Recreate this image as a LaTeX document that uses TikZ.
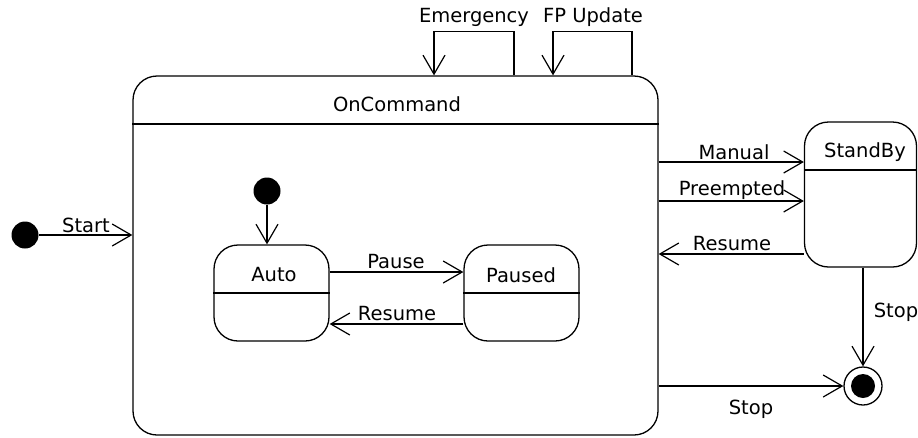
\documentclass[tikz,border=0pt]{standalone}
\usepackage{fontspec}
\setmainfont{DejaVu Sans}
\usetikzlibrary{arrows.meta}
\begin{document}
\begin{tikzpicture}[x=1pt,y=-1pt,
  txt/.style={font=\fontsize{19.5}{23}\selectfont, inner sep=0pt},
  state/.style={draw, line width=1.3pt, rounded corners=24pt, inner sep=0pt},
  hdr/.style={line width=1.3pt},
  initst/.style={circle, fill=black, minimum size=27pt, inner sep=0pt},
  arr/.style={line width=1.2pt, -{Straight Barb[length=19pt,width=22pt]}}]
\useasboundingbox (0,0) rectangle (918,437);
% states
\node[state, minimum width=525pt, minimum height=359pt] (oncmd) at (395.5,255.5) {};
\node[state, minimum width=115pt, minimum height=96pt] (auto) at (271.5,293) {};
\node[state, minimum width=115pt, minimum height=96pt] (paused) at (521.5,293) {};
\node[state, minimum width=112pt, minimum height=145pt] (standby) at (860.5,194.5) {};
\node[initst] (init1) at (25,235) {};
\node[initst] (init2) at (267,191) {};
\node[circle, draw, line width=1.3pt, minimum size=38pt, inner sep=0pt] (final) at (863,386) {};
\node[circle, fill=black, minimum size=24pt, inner sep=0pt] (finalin) at (final) {};
% header lines
\draw[hdr] (oncmd.west |- 0,124) -- (oncmd.east |- 0,124);
\draw[hdr] (auto.west |- 0,293) -- (auto.east |- 0,293);
\draw[hdr] (paused.west |- 0,293) -- (paused.east |- 0,293);
\draw[hdr] (standby.west |- 0,170) -- (standby.east |- 0,170);
% titles
\node[txt] (tOn) at (397,104) {OnCommand};
\node[txt] (tAuto) at (274,275) {Auto};
\node[txt] (tPaused) at (521,275) {Paused};
\node[txt] (tStandBy) at (865,152) {StandBy};
% transitions
\draw[arr] (init1) -- (init1 -| oncmd.west);
\draw[arr] (init2) -- (init2 |- auto.north);
\draw[arr] (auto.east |- 0,272) -- (paused.west |- 0,272);
\draw[arr] (paused.west |- 0,324) -- (auto.east |- 0,324);
\draw[arr] (oncmd.east |- 0,162) -- (standby.west |- 0,162);
\draw[arr] (oncmd.east |- 0,201) -- (standby.west |- 0,201);
\draw[arr] (standby.west |- 0,254) -- (oncmd.east |- 0,254);
\draw[arr] (final |- standby.south) -- (final.north);
\draw[arr] (oncmd.east |- final) -- (final.west);
\draw[arr] (oncmd.north -| 514,0) -- ++(0,-44) -| (oncmd.north -| 434,0);
\draw[arr] (oncmd.north -| 632,0) -- ++(0,-44) -| (oncmd.north -| 553,0);
% labels
\node[txt] (lEm) at (474,17) {Emergency};
\node[txt] (lFP) at (593,17) {FP Update};
\node[txt] (lStart) at (86,225) {Start};
\node[txt] (lPause) at (396,262) {Pause};
\node[txt] (lRes1) at (397,314) {Resume};
\node[txt] (lMan) at (734,152) {Manual};
\node[txt] (lPre) at (732,190) {Preempted};
\node[txt] (lRes2) at (732,244) {Resume};
\node[txt] (lStop1) at (896,312) {Stop};
\node[txt] (lStop2) at (751,409) {Stop};
\end{tikzpicture}
\end{document}
